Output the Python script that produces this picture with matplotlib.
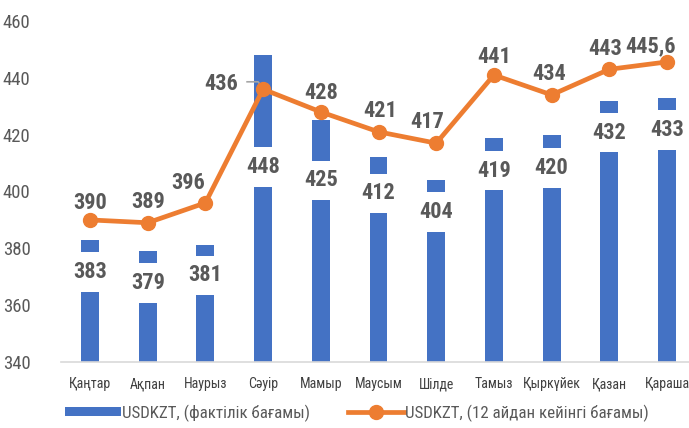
import matplotlib
matplotlib.use("Agg")
import matplotlib.pyplot as plt
from matplotlib import font_manager
from matplotlib.lines import Line2D
from matplotlib.patches import Patch

# ---------------- data ----------------
months = ["Қаңтар", "Ақпан", "Наурыз", "Сәуір", "Мамыр", "Маусым", "Шілде",
          "Тамыз", "Қыркүйек", "Қазан", "Қараша"]
actual = [383, 379, 381, 448, 425, 412, 404, 419, 420, 432, 433]
forecast = [390, 389, 396, 436, 428, 421, 417, 441, 434, 443, 445.6]
forecast_labels = ["390", "389", "396", "436", "428", "421", "417", "441", "434", "443", "445,6"]
yticks = [340, 360, 380, 400, 420, 440, 460]
legend_bar = "USDKZT, (фактілік бағамы)"
legend_line = "USDKZT, (12 айдан кейінгі бағамы)"

# ---------------- layout (pixel offsets of labels) ----------------
bar_label_dy = [-32, -32, -30, -112, -60, -36, -32, -33, -33, -32, -32]
line_label_off = [(0, 17), (0, 21), (-17, 20), (-42, 5), (0, 19), (2, 21),
                  (-9, 21), (0, 18), (-2, 21), (-4, 20), (-17, 16)]

names = {f.name for f in font_manager.fontManager.ttflist}
fam = "DejaVu Sans"
for cand in ["Liberation Sans Narrow", "Roboto Condensed", "Open Sans Condensed", "Noto Sans Condensed"]:
    if cand in names:
        fam = cand
        break
plt.rcParams["font.family"] = [fam, "DejaVu Sans"]

BLUE = "#4472C4"
ORANGE = "#ED7D31"
GRAY = "#595959"

W, H = 689, 428
fig = plt.figure(figsize=(W / 100, H / 100), dpi=100)
ax = fig.add_axes([61.15 / W, 1 - 362 / H, 634.7 / W, 341 / H])

x = list(range(len(months)))
ax.bar(x, [v - 340 for v in actual], bottom=340, width=0.31, color=BLUE, zorder=2)
ax.plot(x, forecast, color=ORANGE, lw=3.4, marker="o", ms=10, zorder=4)

ax.set_xlim(-0.5, 10.5)
ax.set_ylim(340, 460)
ax.set_yticks(yticks)
ax.set_xticks(x)
ax.set_xticklabels(months)
for s in ["top", "right", "left"]:
    ax.spines[s].set_visible(False)
ax.spines["bottom"].set_color("#D9D9D9")
ax.spines["bottom"].set_linewidth(1.2)
ax.tick_params(axis="y", length=0, pad=22, labelsize=13.5, labelcolor=GRAY)
ax.tick_params(axis="x", length=0, pad=11, labelsize=10, labelcolor="#404040")

# bar labels with white boxes
for xi, v, dy in zip(x, actual, bar_label_dy):
    ax.annotate(str(v), (xi, v), xytext=(0, dy), textcoords="offset pixels",
                ha="center", va="center", fontsize=16, fontweight="bold", color=GRAY,
                bbox=dict(boxstyle="square,pad=0.4", fc="white", ec="none"), zorder=3)

# line labels
for i, (xi, v, lab, off) in enumerate(zip(x, forecast, forecast_labels, line_label_off)):
    ax.annotate(lab, (xi, v), xytext=off, textcoords="offset pixels",
                ha="center", va="center", fontsize=16, fontweight="bold", color=GRAY, zorder=5)
    if i == 3:
        ax.plot([xi - 16 / 57.7, xi - 5 / 57.7, xi - 1 / 57.7], [v + 2.6, v + 2.6, v + 0.7],
                color="#A6A6A6", lw=1.2, zorder=3.5)

handles = [Patch(facecolor=BLUE, edgecolor="none"),
           Line2D([0], [0], color=ORANGE, lw=3.4, marker="o", ms=10)]
leg = fig.legend(handles, [legend_bar, legend_line], loc="center",
                 bbox_to_anchor=(357 / W, 1 - 413 / H), ncol=2, frameon=False,
                 fontsize=12.2, handlelength=3.3, handleheight=0.45, handletextpad=0.1,
                 columnspacing=2.2, labelcolor=GRAY)

fig.savefig("out.png", dpi=100)
